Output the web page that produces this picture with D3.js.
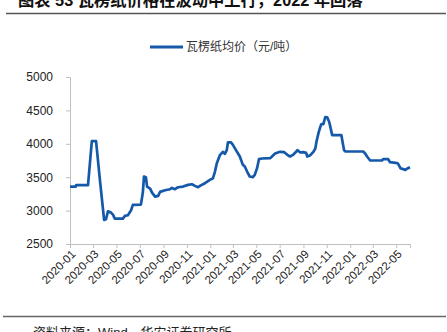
<!DOCTYPE html>
<html>
<head>
<meta charset="utf-8">
<script src="https://cdn.jsdelivr.net/npm/d3@7/dist/d3.min.js"></script>
<style>
  html, body { margin: 0; padding: 0; background: #fff; }
  svg { display: block; }
  text { font-family: "Liberation Sans", Arial, "Noto Sans CJK SC", sans-serif; }
</style>
</head>
<body>
<svg id="chart" width="447" height="332"></svg>
<script>
// 瓦楞纸均价 (元/吨), observation dates and prices
const dates = [
  "2020-01-01","2020-01-16","2020-01-17","2020-02-17","2020-02-27","2020-03-09","2020-03-19","2020-03-30",
  "2020-04-04","2020-04-09","2020-04-17","2020-04-22","2020-04-27","2020-05-18","2020-05-23","2020-05-31",
  "2020-06-08","2020-06-13","2020-07-04","2020-07-09","2020-07-12","2020-07-17","2020-07-20","2020-07-28",
  "2020-08-02","2020-08-10","2020-08-18","2020-08-23","2020-09-05","2020-09-18","2020-09-23","2020-10-01",
  "2020-10-09","2020-10-22","2020-11-04","2020-11-14","2020-11-22","2020-11-30","2020-12-05","2020-12-18",
  "2020-12-31","2021-01-08","2021-01-13","2021-01-18","2021-01-26","2021-02-03","2021-02-08","2021-02-13",
  "2021-02-16","2021-02-24","2021-03-01","2021-03-09","2021-03-19","2021-03-27","2021-04-01","2021-04-07",
  "2021-04-14","2021-04-22","2021-04-27","2021-05-03","2021-05-08","2021-05-16","2021-06-06","2021-06-11",
  "2021-06-19","2021-07-02","2021-07-13","2021-07-21","2021-07-28","2021-08-05","2021-08-13","2021-08-16",
  "2021-08-24","2021-08-31","2021-09-08","2021-09-11","2021-09-19","2021-09-27","2021-10-02","2021-10-05",
  "2021-10-10","2021-10-15","2021-10-18","2021-10-23","2021-10-28","2021-11-02","2021-11-07","2021-11-10",
  "2021-11-15","2021-12-09","2021-12-11","2021-12-16","2021-12-19","2022-02-04","2022-02-09","2022-02-14",
  "2022-02-22","2022-03-25","2022-03-28","2022-04-10","2022-04-15","2022-05-04","2022-05-06","2022-05-12",
  "2022-05-25","2022-05-30","2022-06-06"
];
const prices = [
  3360,3360,3380,3380,4040,4040,3460,2860,
  2870,2990,2970,2940,2880,2880,2920,2930,
  3000,3085,3090,3270,3510,3500,3360,3330,
  3270,3210,3220,3280,3305,3320,3340,3320,
  3350,3360,3385,3395,3370,3350,3370,3410,
  3460,3485,3580,3710,3830,3880,3850,3905,
  4020,4020,3985,3905,3810,3685,3660,3585,
  3510,3500,3535,3635,3770,3780,3785,3810,
  3855,3880,3875,3835,3810,3835,3880,3905,
  3870,3875,3865,3810,3830,3880,3930,4030,
  4155,4255,4295,4295,4400,4395,4330,4260,
  4130,4130,4060,3905,3885,3885,3855,3810,
  3750,3750,3770,3770,3725,3710,3700,3635,
  3610,3630,3650
];
const yTicks = [2500, 3000, 3500, 4000, 4500, 5000];
const seriesName = "瓦楞纸均价（元/吨）";
const title = "图表 53  瓦楞纸价格在波动中上行，2022 年回落";
const source = "资料来源：Wind，华安证券研究所";

const parse = d3.timeParse("%Y-%m-%d");
const data = dates.map((d, i) => ({ date: parse(d), value: prices[i] }));

const svg = d3.select("#chart");
const plot = { left: 70, right: 410, top: 77, bottom: 244 };
const lineColor = "#1459aa";
const axisColor = "#c0c0c0";

const x = d3.scaleTime()
  .domain(d3.extent(data, d => d.date))
  .range([plot.left, plot.right]);
const y = d3.scaleLinear()
  .domain([2500, 5000])
  .range([plot.bottom, plot.top]);

// title and rule
svg.append("text")
  .attr("x", 18).attr("y", 6)
  .attr("font-size", 16.3).attr("font-weight", "bold").attr("fill", "#111")
  .text(title);
svg.append("line")
  .attr("x1", 6).attr("x2", 446).attr("y1", 13.5).attr("y2", 13.5)
  .attr("stroke", "#555").attr("stroke-width", 1.5);

// legend
svg.append("line")
  .attr("x1", 150).attr("x2", 183).attr("y1", 47).attr("y2", 47)
  .attr("stroke", lineColor).attr("stroke-width", 3);
svg.append("text")
  .attr("x", 186).attr("y", 51)
  .attr("font-size", 12).attr("fill", "#333")
  .text(seriesName);

// y axis
const yAxis = svg.append("g")
  .attr("transform", `translate(${plot.left},0)`)
  .call(d3.axisLeft(y).tickValues(yTicks).tickSize(4).tickPadding(13).tickFormat(d3.format("d")));
yAxis.select(".domain").attr("stroke", axisColor);
yAxis.selectAll(".tick line").attr("stroke", axisColor);
yAxis.selectAll(".tick text").attr("font-size", 12).attr("fill", "#222")
  .attr("font-family", "'Liberation Sans', Arial, sans-serif");

// x axis, ticks every two months
const xTickDates = d3.timeMonth.every(2).range(new Date(2020, 0, 1), new Date(2022, 5, 2));
const xAxis = svg.append("g")
  .attr("transform", `translate(0,${plot.bottom})`)
  .call(d3.axisBottom(x).tickValues(xTickDates).tickSize(4).tickFormat(d3.timeFormat("%Y-%m")));
xAxis.select(".domain").attr("stroke", axisColor);
xAxis.selectAll(".tick line").attr("stroke", axisColor);
xAxis.selectAll(".tick text")
  .attr("font-size", 11.5).attr("fill", "#222")
  .attr("font-family", "'Liberation Sans', Arial, sans-serif")
  .attr("text-anchor", "end")
  .attr("dy", 0)
  .attr("transform", "translate(3,8) rotate(-45)")
  .attr("y", 4).attr("x", 0);

// price line
svg.append("path")
  .datum(data)
  .attr("fill", "none")
  .attr("stroke", lineColor)
  .attr("stroke-width", 2.7)
  .attr("stroke-linejoin", "round")
  .attr("d", d3.line().x(d => x(d.date)).y(d => y(d.value)));

// source note
svg.append("line")
  .attr("x1", 3).attr("x2", 446).attr("y1", 316.5).attr("y2", 316.5)
  .attr("stroke", "#666").attr("stroke-width", 1.5);
svg.append("text")
  .attr("x", 33).attr("y", 337)
  .attr("font-size", 13).attr("fill", "#222")
  .text(source);
</script>
</body>
</html>
